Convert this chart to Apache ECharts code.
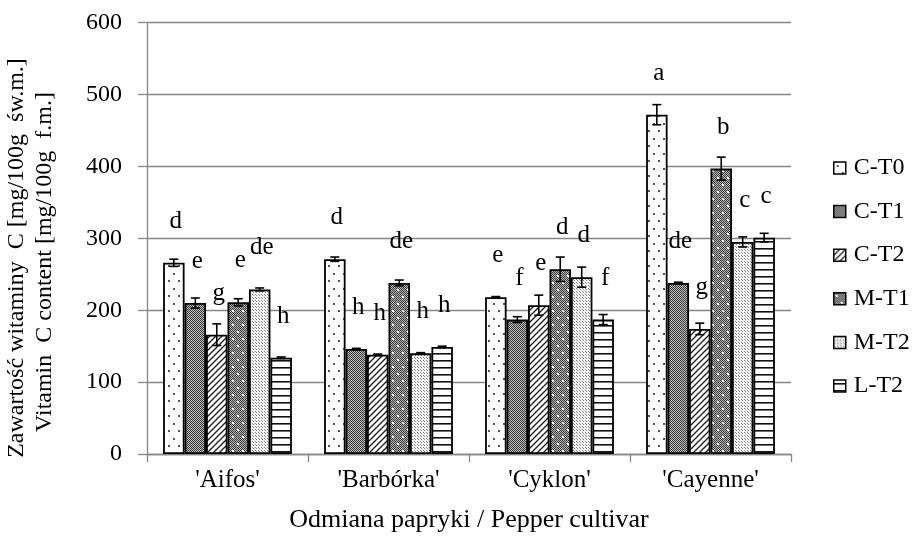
<!DOCTYPE html>
<html>
<head>
<meta charset="utf-8">
<script src="https://cdn.jsdelivr.net/npm/echarts@6/dist/echarts.min.js"></script>
<style>html,body{margin:0;padding:0;background:#fff}#c{width:914px;height:539px}</style>
</head>
<body>
<div id="c"></div>
<script>
// ---- data ----
var categories = ["'Aifos'", "'Barbórka'", "'Cyklon'", "'Cayenne'"];
var seriesNames = ['C-T0', 'C-T1', 'C-T2', 'M-T1', 'M-T2', 'L-T2'];
// values per series (across the 4 cultivars)
var valCT0 = [266, 271, 218, 472];
var valCT1 = [210, 146, 187, 238];
var valCT2 = [166, 138, 207, 174];
var valMT1 = [211, 238, 257, 397];
var valMT2 = [229, 140, 246, 295];
var valLT2 = [134, 149, 187, 301];
// error (+/-)
var errCT0 = [5, 3, 1, 14];
var errCT1 = [7, 1, 4, 1];
var errCT2 = [15, 1, 14, 8];
var errMT1 = [5, 4, 17, 16];
var errMT2 = [2, 1, 14, 7];
var errLT2 = [1, 1, 7, 6];
// significance letters
var letCT0 = ['d', 'd', 'e', 'a'];
var letCT1 = ['e', 'h', 'f', 'de'];
var letCT2 = ['g', 'h', 'e', 'g'];
var letMT1 = ['e', 'de', 'd', 'b'];
var letMT2 = ['de', 'h', 'd', 'c'];
var letLT2 = ['h', 'h', 'f', 'c'];
var yTicks = [0, 100, 200, 300, 400, 500, 600];

var values = [valCT0, valCT1, valCT2, valMT1, valMT2, valLT2];
var errors = [errCT0, errCT1, errCT2, errMT1, errMT2, errLT2];
var letters = [letCT0, letCT1, letCT2, letMT1, letMT2, letLT2];

// ---- patterns ----
function mk(w, h, draw) {
  var c = document.createElement('canvas');
  c.width = w; c.height = h;
  var g = c.getContext('2d');
  draw(g, w, h);
  return { image: c, repeat: 'repeat' };
}
function checker(g, w, h, a, b) {
  for (var y = 0; y < h; y++) for (var x = 0; x < w; x++) {
    g.fillStyle = ((x + y) % 2 === 0) ? a : b;
    g.fillRect(x, y, 1, 1);
  }
}
var patterns = [
  mk(10, 15, function (g, w, h) {
    g.fillStyle = '#fff'; g.fillRect(0, 0, w, h);
    g.fillStyle = '#555';
    g.fillRect(3, 3, 2, 2); g.fillRect(8, 10, 2, 2);
  }),
  mk(4, 4, function (g, w, h) { checker(g, w, h, '#3a3a3a', '#bdbdbd'); }),
  mk(6, 6, function (g, w, h) {
    g.fillStyle = '#fff'; g.fillRect(0, 0, w, h);
    g.strokeStyle = '#222'; g.lineWidth = 1.4;
    g.beginPath();
    g.moveTo(-1, 7); g.lineTo(7, -1);
    g.moveTo(-4, 4); g.lineTo(4, -4);
    g.moveTo(2, 10); g.lineTo(10, 2);
    g.stroke();
  }),
  mk(10, 14, function (g, w, h) {
    checker(g, w, h, '#3a3a3a', '#b8b8b8');
    g.fillStyle = '#fff';
    g.fillRect(2, 2, 2, 2); g.fillRect(7, 9, 2, 2);
  }),
  mk(3, 3, function (g, w, h) {
    g.fillStyle = '#f4f4f4'; g.fillRect(0, 0, w, h);
    g.fillStyle = '#8a8a8a'; g.fillRect(0, 0, 1, 1); g.fillRect(1, 1, 1, 1);
  }),
  mk(4, 7, function (g, w, h) {
    g.fillStyle = '#fff'; g.fillRect(0, 0, w, h);
    g.fillStyle = '#111'; g.fillRect(0, 3, w, 1.6);
  })
];

var FONT = 'Liberation Serif';
var N = seriesNames.length;
var CAT_GAP = 0.2;

var series = [];
for (var i = 0; i < N; i++) {
  (function (si) {
    series.push({
      name: seriesNames[si],
      type: 'bar',
      data: values[si],
      barGap: '0%',
      barCategoryGap: '20%',
      itemStyle: { color: patterns[si], borderColor: '#000', borderWidth: 1.8 },
      label: {
        show: true, position: 'top', distance: 29, offset: [2, 0],
        fontFamily: FONT, fontSize: 25, color: '#000',
        formatter: function (p) { return letters[si][p.dataIndex]; }
      },
      z: 2
    });
  })(i);
}
// error bars
for (var j = 0; j < N; j++) {
  (function (si) {
    var d = values[si].map(function (v, k) { return [k, v, errors[si][k]]; });
    series.push({
      name: seriesNames[si] + ' err',
      type: 'custom',
      data: d,
      encode: { x: 0, y: 1 },
      z: 5,
      silent: true,
      renderItem: function (params, api) {
        var ci = api.value(0), v = api.value(1), e = api.value(2);
        var band = api.size([1, 0])[0];
        var bw = band * (1 - CAT_GAP) / N;
        var cx = api.coord([ci, v])[0] - band * (1 - CAT_GAP) / 2 + (si + 0.5) * bw;
        var yHi = api.coord([ci, v + e])[1];
        var yLo = api.coord([ci, v - e])[1];
        var cap = 4.5;
        var st = { stroke: '#000', lineWidth: 1.6 };
        return {
          type: 'group',
          children: [
            { type: 'line', shape: { x1: cx, y1: yHi, x2: cx, y2: yLo }, style: st },
            { type: 'line', shape: { x1: cx - cap, y1: yHi, x2: cx + cap, y2: yHi }, style: st },
            { type: 'line', shape: { x1: cx - cap, y1: yLo, x2: cx + cap, y2: yLo }, style: st }
          ]
        };
      }
    });
  })(j);
}

var chart = echarts.init(document.getElementById('c'), null, { renderer: 'canvas' });
chart.setOption({
  backgroundColor: '#fff',
  animation: false,
  grid: { left: 147, right: 123, top: 22.7, bottom: 85, containLabel: false },
  legend: {
    data: seriesNames,
    icon: 'rect',
    orient: 'vertical',
    left: 833, top: 155, padding: 0,
    itemWidth: 12, itemHeight: 12, itemGap: 17.6,
    itemStyle: { borderColor: '#000', borderWidth: 1.5 },
    textStyle: { fontFamily: FONT, fontSize: 24, lineHeight: 26, color: '#000', padding: [0, 0, 0, 3] }
  },
  xAxis: {
    type: 'category',
    data: categories,
    axisLine: { lineStyle: { color: '#868686', width: 1.3 } },
    axisTick: { show: true, length: 8, lineStyle: { color: '#868686', width: 1.3 } },
    axisLabel: { fontFamily: FONT, fontSize: 25, color: '#000', margin: 14 },
    name: 'Odmiana papryki / Pepper cultivar',
    nameLocation: 'middle', nameGap: 53,
    nameTextStyle: { fontFamily: FONT, fontSize: 26, color: '#000' }
  },
  yAxis: {
    type: 'value',
    min: yTicks[0], max: yTicks[yTicks.length - 1], interval: yTicks[1] - yTicks[0],
    axisLine: { show: true, lineStyle: { color: '#868686', width: 1.3 } },
    axisTick: { show: true, length: 9, lineStyle: { color: '#868686', width: 1.3 } },
    axisLabel: { fontFamily: FONT, fontSize: 24, color: '#000', margin: 25 },
    splitLine: { lineStyle: { color: '#868686', width: 1.3 } }
  },
  graphic: [
    { type: 'text', x: 17, y: 258, rotation: Math.PI / 2,
      style: { text: 'Zawartość witaminy  C [mg/100g  św.m.]', fontFamily: FONT, fontSize: 24,
        fill: '#000', textAlign: 'center', textVerticalAlign: 'middle' } },
    { type: 'text', x: 45, y: 262, rotation: Math.PI / 2,
      style: { text: 'Vitamin  C content [mg/100g  f.m.]', fontFamily: FONT, fontSize: 24,
        fill: '#000', textAlign: 'center', textVerticalAlign: 'middle' } }
  ],
  series: series
});
</script>
</body>
</html>
